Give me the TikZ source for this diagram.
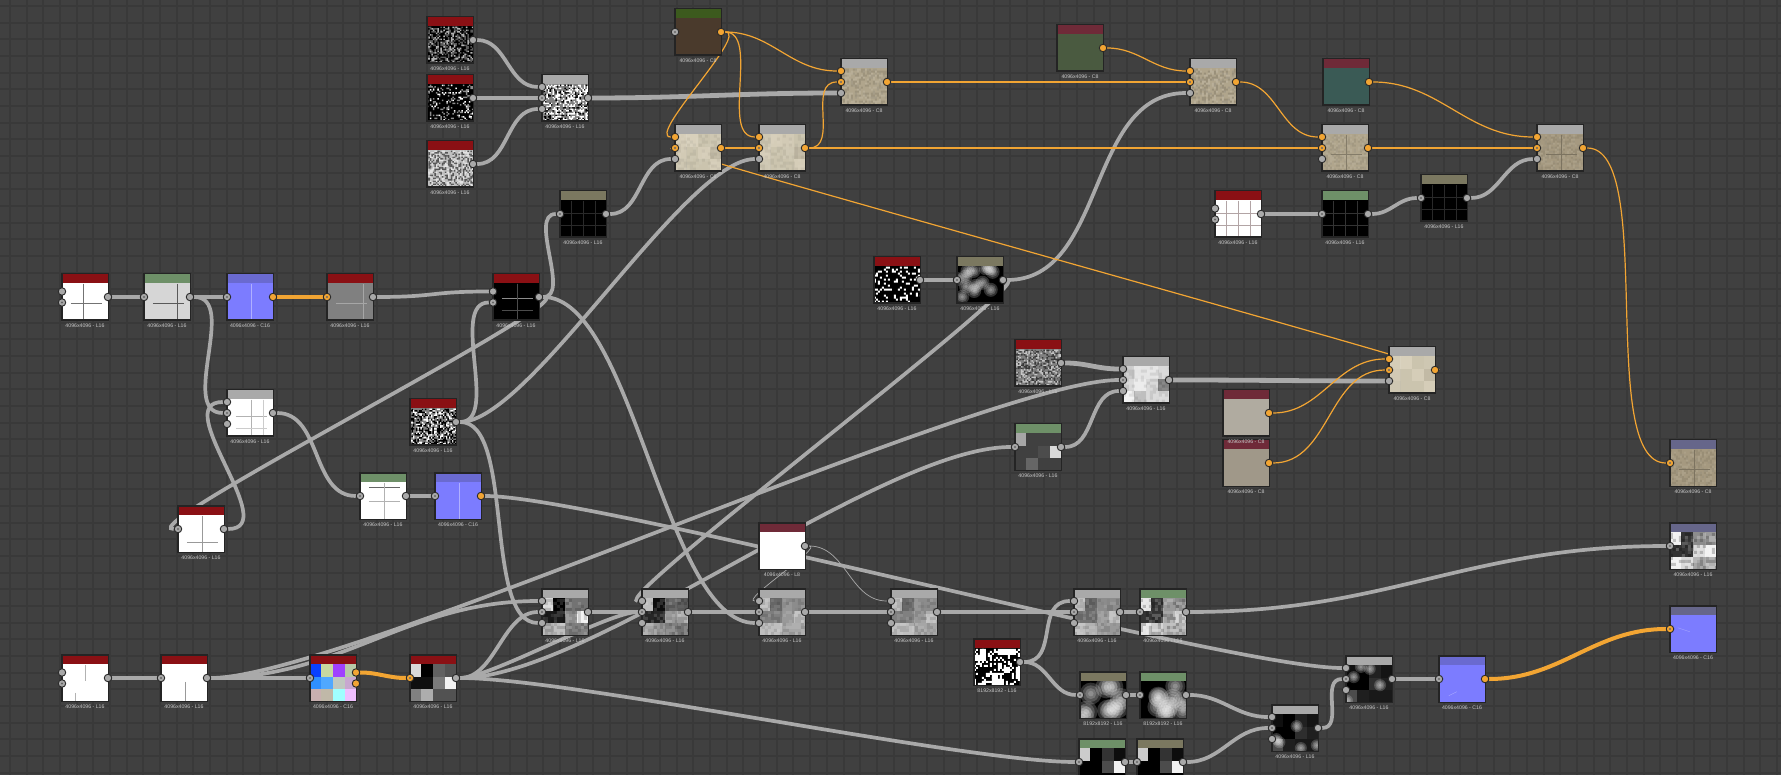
\documentclass[tikz,border=0pt]{standalone}
\usepackage{xcolor}
\usepackage{fontspec}
\setmainfont{Liberation Sans}
\usetikzlibrary{positioning,calc}

\definecolor{canvas}{HTML}{404040}
\definecolor{gridln}{HTML}{393939}
\definecolor{edgec}{HTML}{242424}
\definecolor{hred}{HTML}{8A1014}
\definecolor{hgray}{HTML}{A9A9A9}
\definecolor{hgreen}{HTML}{6E9068}
\definecolor{hkhaki}{HTML}{7B7860}
\definecolor{hwine}{HTML}{6F2A38}
\definecolor{hblue}{HTML}{6A6AD0}
\definecolor{hslate}{HTML}{66668A}
\definecolor{hgrass}{HTML}{3C5A1E}
\definecolor{wirec}{HTML}{A9A9A9}
\definecolor{orangec}{HTML}{F2A533}
\definecolor{normalc}{HTML}{7C7CFF}
\definecolor{cream}{HTML}{D3CAB2}
\definecolor{stone}{HTML}{B0A58C}
\definecolor{stonedk}{HTML}{A59980}
\definecolor{soilc}{HTML}{4A3A2C}
\definecolor{mossc}{HTML}{4A5A40}
\definecolor{algaec}{HTML}{3A5A55}
\definecolor{toneac}{HTML}{A09889}
\definecolor{tonebc}{HTML}{B0ABA0}

\pgfdeclarelayer{backdrop}
\pgfdeclarelayer{wires}
\pgfsetlayers{backdrop,wires,main}

\newcommand{\speckle}[5][1]{%
  \pgfmathsetseed{#2}%
  \pgfmathsetmacro\ynext{10+#3}%
  \begin{pgfscope}
  \pgfsetfillopacity{#1}\pgfsetfillcolor{#4}%
  \foreach \cx in {0,#3,...,47}{\foreach \cy in {10,\ynext,...,47}{%
    \pgfmathtruncatemacro\hit{rnd<#5}%
    \ifnum\hit=1 \pgfpathrectangle{\pgfqpoint{\cx pt}{-\cy pt}}{\pgfqpoint{#3pt}{-#3pt}}\fi}}%
  \pgfusepath{fill}
  \end{pgfscope}}
\newcommand{\grit}[3][1]{\speckle[#1]{#2}{#3}{white}{.35}\speckle[#1]{#21}{#3}{black}{.35}}
\newcommand{\blocks}[2][1]{%
  \foreach \v [count=\k from 0] in {#2}{%
    \pgfmathtruncatemacro\cc{mod(\k,4)}%
    \pgfmathtruncatemacro\rr{int(\k/4)}%
    \fill[white!\v!black,opacity=#1] ({\cc*11.7},{9.5+\rr*12.4}) rectangle ++(11.9,12.6);}}
\newcommand{\colblocks}[1]{%
  \foreach \v [count=\k from 0] in {#1}{%
    \pgfmathtruncatemacro\cc{mod(\k,4)}%
    \pgfmathtruncatemacro\rr{int(\k/4)}%
    \definecolor{blk}{HTML}{\v}%
    \fill[blk] ({\cc*11.7},{9.5+\rr*12.4}) rectangle ++(11.9,12.6);}}
\newcommand{\softblobs}[3]{%
  \pgfmathsetseed{#1}%
  \foreach \k in {1,...,#2}{%
    \pgfmathsetmacro\bx{rnd*46}%
    \pgfmathsetmacro\by{10+rnd*36}%
    \foreach \q in {1,.75,.5,.25}{\fill[white,opacity=.19] (\bx,\by) circle ({\q*#3 pt});}}}
\newcommand{\crossmark}[3]{\draw[#1,line width=.45pt] (#2,10)--(#2,47) (9,#3)--(40,#3);}
\newcommand{\gridmark}[1]{%
  \foreach \q in {11,23,35}{\draw[#1,line width=.4pt] (\q,10)--(\q,47);}
  \foreach \q in {22,34}{\draw[#1,line width=.4pt] (0,\q)--(47,\q);}}

\begin{document}
\begin{tikzpicture}[
    x=1pt, y=-1pt,
    thumb/.style 2 args={rectangle, draw=edgec, line width=1.5pt, minimum size=46.5pt, inner sep=0pt, path picture={
        \begin{pgfscope}
        \pgftransformshift{\pgfqpoint{-23.25pt}{23.25pt}}
        #2
        \fill[#1] (0,0) rectangle (47,9.5);
        \end{pgfscope}}},
    lbl/.style={font=\fontsize{5.2}{6}\selectfont, text=white!78!black, inner sep=0pt},
    ll/.style={label={[lbl,label distance=3pt]below:4096x4096 - L16}},
    lh/.style={label={[lbl,label distance=3pt]below:8192x8192 - L16}},
    le/.style={label={[lbl,label distance=3pt]below:4096x4096 - L8}},
    cc/.style={label={[lbl,label distance=3pt]below:4096x4096 - C8}},
    cs/.style={label={[lbl,label distance=3pt]below:4096x4096 - C16}},
    gsock/.style={circle, fill=wirec, draw=edgec!80!canvas, line width=.9pt, minimum size=7.5pt, inner sep=0pt},
    osock/.style={gsock, fill=orangec},
    gdot/.style={gsock, path picture={\fill[black!60] (path picture bounding box.center) circle (1.1pt);}},
    odot/.style={osock, path picture={\fill[black!60] (path picture bounding box.center) circle (1.1pt);}},
    wire/.style={draw=wirec, line width=3.7pt, every to/.style={out=0,in=180}},
    wirefat/.style={wire, line width=4.8pt},
    wirethin/.style={wire, line width=.7pt},
    owire/.style={wire, draw=orangec, line width=1.2pt},
    owirefat/.style={wire, draw=orangec, line width=4pt}
]
    \useasboundingbox (0,0) rectangle (1781,775);
    \begin{pgfonlayer}{backdrop}
    \fill[canvas] (0,0) rectangle (1781,775);
    \foreach \gx in {10,26.67,...,1781}{\draw[gridln, line width=2pt] (\gx,0)--(\gx,775);}
    \foreach \gy in {6,22.67,...,775}{\draw[gridln, line width=2pt] (0,\gy)--(1781,\gy);}
    \end{pgfonlayer}

    \node[thumb={hred}{\speckle{11}{1.5}{white!35!black}{.35}\speckle{110}{1.5}{white!70!black}{.18}}, ll, fill=black] (noisea) at (450,40) {};
    \node[thumb={hred}{\speckle{12}{1.5}{white!55!black}{.2}\speckle{120}{1.5}{white}{.07}}, ll, fill=black] (noiseb) at (450,98) {};
    \node[thumb={hred}{\grit[.55]{13}{1.5}}, ll, fill=white!75!black] (noisec) at (450,164) {};
    \node[thumb={hgray}{\speckle{14}{1.5}{black}{.3}\speckle{140}{1.5}{white}{.35}}, ll, fill=gray] (mixnoise) at (565,98) {};
    \node[thumb={hgrass}{}, cc, fill=soilc] (soil) at (698,32) {};
    \node[thumb={hgray}{\blocks[.12]{90,100,60,70,80,60,90,30,70,60,60,90}\grit[.05]{15}{3}}, cc, fill=cream] (sanda) at (698,148) {};
    \node[thumb={hgray}{\blocks[.12]{70,90,80,60,90,60,70,25,70,60,60,90}\grit[.05]{16}{3}}, cc, fill=cream] (sandb) at (782,148) {};
    \node[thumb={hgray}{\grit[.1]{17}{2}}, cc, fill=stone] (sandc) at (864,82) {};
    \node[thumb={hkhaki}{\gridmark{white!16!black}}, ll, fill=black] (seamdark) at (583,214) {};

    \node[thumb={hred}{\crossmark{black!55}{21}{29}}, ll, fill=white] (inputa) at (85,297) {};
    \node[thumb={hgreen}{\crossmark{black!65}{33}{29}}, ll, fill=white!84!black] (blura) at (167,297) {};
    \node[thumb={hblue}{\draw[white!40!normalc,line width=.3pt] (24,10)--(24,47);}, cs, fill=normalc] (norma) at (250,297) {};
    \node[thumb={hred}{\crossmark{black!35}{36}{29}}, ll, fill=white!50!black] (heighta) at (350,297) {};
    \node[thumb={hred}{\crossmark{white!55!black}{24}{24}\crossmark{white!30!black}{24}{36}}, ll, fill=black] (subtract) at (516,297) {};
    \node[thumb={hgray}{\crossmark{black!30}{24}{26}\crossmark{black!20}{36}{38}}, ll, fill=white] (maska) at (250,413) {};
    \node[thumb={hred}{\crossmark{black!40}{24}{36}}, ll, fill=white] (maskb) at (201,529) {};
    \node[thumb={hgreen}{\crossmark{black!60}{24}{14}\crossmark{black!30}{24}{28}}, ll, fill=white] (maskc) at (383,496) {};
    \node[thumb={hblue}{\draw[white!40!normalc,line width=.3pt] (24,10)--(24,47);}, cs, fill=normalc] (normb) at (458,496) {};
    \node[thumb={hred}{\grit{21}{1.5}}, ll, fill=gray] (noised) at (433,422) {};

    \node[thumb={hred}{\draw[black!30,line width=.5pt] (23,10)--(23,26) (13,38)--(13,47);}, ll, fill=white] (sourcea) at (85,678) {};
    \node[thumb={hred}{\draw[black!40,line width=.5pt] (24,27)--(24,47);}, ll, fill=white] (sourceb) at (184,678) {};
    \node[thumb={hred}{\colblocks{0A40FF,C8D8A0,A040FF,B8C8A8,3090FF,50A8FF,C0C8C0,C8A8D0,C8B0B0,C0B8A8,A0FFFF,F0C0FF}}, cs, fill=white] (uvmap) at (333,678) {};
    \node[thumb={hred}{\blocks{85,0,38,32,6,6,48,95,50,68,32,32}}, ll, fill=black] (cellmap) at (433,678) {};
    \node[thumb={hgray}{\blocks{85,0,45,45,10,10,55,95,70,75,50,50}\grit[.14]{31}{3}}, ll, fill=gray] (mixa) at (565,612) {};
    \node[thumb={hgray}{\blocks{75,5,40,35,15,15,60,70,65,60,50,45}\grit[.14]{32}{3}}, ll, fill=gray] (mixb) at (665,612) {};
    \node[thumb={hgray}{\blocks{75,40,55,55,50,50,60,75,75,75,65,65}\grit[.1]{33}{3}}, ll, fill=gray] (mixc) at (782,612) {};
    \node[thumb={hgray}{\blocks{75,40,55,55,50,50,60,75,75,75,65,65}\grit[.1]{34}{3}}, ll, fill=gray] (mixd) at (914,612) {};
    \node[thumb={hgray}{\blocks{75,40,55,55,45,45,60,75,75,70,60,60}\grit[.1]{35}{3}}, ll, fill=gray] (mixe) at (1097,612) {};
    \node[thumb={hgreen}{\blocks{90,20,60,55,20,20,65,80,90,80,70,70}\grit[.2]{36}{3}}, ll, fill=gray] (levela) at (1163,612) {};
    \node[thumb={hslate}{\blocks{95,20,55,60,20,20,85,95,95,85,65,70}\grit[.2]{37}{3}}, ll, fill=gray] (rough) at (1693,546) {};
    \node[thumb={hslate}{\draw[white!40!normalc,line width=.3pt] (8,22)--(20,26);}, cs, fill=normalc] (normout) at (1693,629) {};
    \node[thumb={hwine}{}, le, fill=white] (white) at (782,546) {};
    \node[thumb={hred}{\speckle{41}{2}{white}{.28}\speckle{410}{6}{white}{.15}}, lh, fill=black] (cloud) at (997,662) {};
    \node[thumb={hkhaki}{\softblobs{42}{9}{11}}, lh, fill=black] (cloudb) at (1103,695) {};
    \node[thumb={hgreen}{\softblobs{43}{10}{10}}, lh, fill=black] (cloudc) at (1163,695) {};
    \node[thumb={hgreen}{\blocks{80,0,20,5,0,0,30,95,0,0,0,0}}, fill=black] (cellb) at (1102,762) {};
    \node[thumb={hkhaki}{\blocks{80,0,20,5,0,0,30,95,0,0,0,0}}, fill=black] (cellc) at (1160,762) {};
    \node[thumb={hgray}{\blocks{6,0,13,8,0,0,18,12,30,12,10,10}\softblobs{44}{5}{6}}, ll, fill=black] (mixf) at (1295,728) {};
    \node[thumb={hgray}{\blocks{6,0,13,8,0,0,18,12,30,12,10,10}\softblobs{45}{5}{6}}, ll, fill=black] (mixg) at (1369,679) {};
    \node[thumb={hblue}{\draw[white!40!normalc,line width=.3pt] (10,40)--(18,36);}, cs, fill=normalc] (normc) at (1462,679) {};

    \node[thumb={hred}{\speckle{51}{2}{white}{.2}}, ll, fill=black] (splat) at (897,280) {};
    \node[thumb={hkhaki}{\softblobs{52}{13}{7}}, ll, fill=black] (splatblur) at (980,280) {};
    \node[thumb={hred}{\grit[.55]{53}{1.5}}, ll, fill=gray] (grain) at (1038,363) {};
    \node[thumb={hgray}{\blocks{80,90,90,85,85,92,85,50,95,75,85,85}\grit[.08]{54}{3}}, ll, fill=white] (mixh) at (1146,380) {};
    \node[thumb={hgreen}{\blocks{65,25,25,25,25,25,30,85,25,40,25,25}}, ll, fill=gray] (cellgray) at (1038,447) {};
    \node[thumb={hgray}{\blocks[.12]{90,100,60,70,80,60,90,30,70,60,60,90}}, cc, fill=cream] (sandmix) at (1412,370) {};
    \node[thumb={hwine}{}, cc, fill=toneac] (tonea) at (1246,463) {};
    \node[thumb={hwine}{}, cc, fill=tonebc] (toneb) at (1246,413) {};

    \node[thumb={hwine}{}, cc, fill=mossc] (moss) at (1080,48) {};
    \node[thumb={hwine}{}, cc, fill=algaec] (algae) at (1346,82) {};
    \node[thumb={hgray}{\grit[.12]{61}{2}}, cc, fill=stone] (sandd) at (1213,82) {};
    \node[thumb={hgray}{\grit[.07]{62}{2}\crossmark{stone!75!black}{24}{29}}, cc, fill=stone] (sande) at (1345,148) {};
    \node[thumb={hgray}{\grit[.07]{63}{2}\crossmark{stonedk!75!black}{24}{29}}, cc, fill=stonedk] (sandf) at (1560,148) {};
    \node[thumb={hred}{\gridmark{hred!15!white!75!black}}, ll, fill=white] (gridin) at (1238,214) {};
    \node[thumb={hgreen}{\gridmark{white!20!black}}, ll, fill=black] (gridlev) at (1345,214) {};
    \node[thumb={hkhaki}{\gridmark{white!16!black}}, ll, fill=black] (gridblur) at (1444,198) {};
    \node[thumb={hslate}{\grit[.07]{64}{2}\crossmark{stonedk!75!black}{24}{29}}, cc, fill=stonedk] (colorout) at (1693,463) {};

    % sockets on the left side
    \foreach \n in {mixnoise,maska,mixa,mixb,mixc,mixd,mixe,mixf,mixg,mixh}{
        \node[gsock] (\n-a) at ([xshift=1pt,yshift=11pt]\n.west) {};
        \node[gdot] (\n-b) at ([xshift=1pt]\n.west) {};
        \node[gsock] (\n-c) at ([xshift=1pt,yshift=-11pt]\n.west) {};
    }
    \foreach \n in {sanda,sandb,sandc,sandd,sande,sandf,sandmix}{
        \node[osock] (\n-a) at ([xshift=1pt,yshift=11pt]\n.west) {};
        \node[odot] (\n-b) at ([xshift=1pt]\n.west) {};
        \node[gsock] (\n-c) at ([xshift=1pt,yshift=-11pt]\n.west) {};
    }
    \foreach \n in {inputa,subtract,sourcea,gridin}{
        \node[gsock] (\n-a) at ([xshift=1pt,yshift=5.5pt]\n.west) {};
        \node[gdot] (\n-b) at ([xshift=1pt,yshift=-5.5pt]\n.west) {};
    }
    \foreach \n in {soil,blura,norma,maskb,maskc,normb,seamdark,sourceb,uvmap,levela,rough,cloudb,cloudc,cellb,cellc,normc,splatblur,cellgray,gridlev,gridblur}{
        \node[gdot] (\n-b) at ([xshift=1pt]\n.west) {};
    }
    \foreach \n in {heighta,cellmap,normout,colorout}{
        \node[odot] (\n-b) at ([xshift=1pt]\n.west) {};
    }

    % sockets on the right side
    \foreach \n in {noisea,noiseb,noisec,mixnoise,seamdark,inputa,blura,heighta,subtract,maska,maskb,maskc,noised,sourcea,sourceb,cellmap,mixa,mixb,mixc,mixd,mixe,mixf,mixg,mixh,levela,white,cloud,cloudb,cloudc,cellb,cellc,splat,splatblur,grain,cellgray,gridin,gridlev,gridblur}{
        \node[gsock] (\n-o) at ([xshift=-1pt]\n.east) {};
    }
    \foreach \n in {soil,sanda,sandb,sandc,sandd,sande,sandf,sandmix,moss,algae,tonea,toneb,norma,normb,normc}{
        \node[osock] (\n-o) at ([xshift=-1pt]\n.east) {};
    }
    \node[osock] (uvmap-o) at ([xshift=-1pt,yshift=5.5pt]uvmap.east) {};
    \node[osock] (uvmap-p) at ([xshift=-1pt,yshift=-5.5pt]uvmap.east) {};

    \begin{pgfonlayer}{wires}
    \draw[wire] (noisea-o) to (mixnoise-a);
    \draw[wire] (noiseb-o) to (mixnoise-b);
    \draw[wire] (noisec-o) to (mixnoise-c);
    \draw[wirefat] (mixnoise-o) to (sandc-c);
    \draw[wire] (seamdark-o) to (sanda-c);
    \draw[wire] (subtract-o) to[distance=28pt] (seamdark-b);
    \draw[wire] (noised-o) to[distance=40pt] (subtract-b);
    \draw[wire] (noised-o) to[distance=70pt] (sandb-c);
    \draw[wire] (noised-o) to[distance=55pt] (mixa-c);
    \draw[wire] (subtract-o) to[distance=90pt] (mixc-c);
    \draw[wire] (subtract-o) to[distance=45pt] (maskb-b);
    \draw[wirefat] (inputa-o) to (blura-b);
    \draw[wirefat] (blura-o) to (norma-b);
    \draw[owirefat] (norma-o) to (heighta-b);
    \draw[wire] (heighta-o) to[distance=60pt] (subtract-a);
    \draw[wire] (blura-o) to[distance=45pt] (maska-b);
    \draw[wire] (maskb-o) to[distance=55pt] (maska-a);
    \draw[wire] (maska-o) to (maskc-b);
    \draw[wirefat] (maskc-o) to (normb-b);
    \draw[wire] (normb-o) to[distance=110pt] (mixg-a);

    \draw[wirefat] (sourcea-o) to (sourceb-b);
    \draw[wire] (sourceb-o) to (uvmap-b);
    \draw[wire] (sourceb-o) to (mixa-a);
    \draw[wire] (sourceb-o) to[distance=130pt] (mixh-b);
    \draw[owirefat] (uvmap-o) to (cellmap-b);
    \draw[wire] (cellmap-o) to[distance=35pt] (mixa-b);
    \draw[wire] (cellmap-o) to[distance=30pt] (mixb-b);
    \draw[wire] (cellmap-o) to[distance=130pt] (cellgray-b);
    \draw[wire] (cellmap-o) to[distance=110pt] (cellb-b);
    \draw[wire] (mixa-o) to (mixb-b);
    \draw[wire] (mixb-o) to (mixc-b);
    \draw[wire] (mixc-o) to (mixd-b);
    \draw[wire] (mixd-o) to (mixe-b);
    \draw[wirefat] (mixe-o) to (levela-b);
    \draw[wire] (levela-o) to[distance=200pt] (rough-b);
    \draw[wirethin] (white-o) to (mixd-a);
    \draw[wirethin] (white-o) to[distance=15pt] (mixc-a);
    \draw[wire] (cloud-o) to[distance=35pt] (mixe-a);
    \draw[wire] (cloud-o) to (cloudb-b);
    \draw[wirefat] (cloudb-o) to (cloudc-b);
    \draw[wire] (cloudc-o) to (mixf-a);
    \draw[wirefat] (cellb-o) to (cellc-b);
    \draw[wire] (cellc-o) to (mixf-b);
    \draw[wire] (mixf-o) to[distance=22pt] (mixg-b);
    \draw[wirefat] (mixg-o) to (normc-b);
    \draw[owirefat] (normc-o) to (normout-b);

    \draw[wirefat] (splat-o) to (splatblur-b);
    \draw[wire] (splatblur-o) to[distance=30pt] (mixb-a);
    \draw[wire] (splatblur-o) to[distance=100pt] (sandd-c);
    \draw[wirefat] (grain-o) to (mixh-a);
    \draw[wire] (cellgray-o) to (mixh-c);
    \draw[wirefat] (mixh-o) to (sandmix-c);
    \draw[wirefat] (gridin-o) to (gridlev-b);
    \draw[wire] (gridlev-o) to (gridblur-b);
    \draw[wire] (gridblur-o) to (sandf-c);

    \draw[owire] (soil-o) to[distance=25pt] (sanda-a);
    \draw[owire] (soil-o) to[distance=35pt] (sandb-a);
    \draw[owire] (soil-o) to (sandc-a);
    \draw[owire] (sanda-o) to (sandb-b);
    \draw[owire] (sandb-o) to[distance=30pt] (sandc-b);
    \draw[owire] (sandb-o) to (sande-b);
    \draw[owire] (sandc-o) to (sandd-b);
    \draw[owire] (moss-o) to (sandd-a);
    \draw[owire] (sandd-o) to (sande-a);
    \draw[owire] (algae-o) to (sandf-a);
    \draw[owire] (sande-o) to (sandf-b);
    \draw[owire] (sandf-o) to[distance=70pt] (colorout-b);
    \draw[owire] (sandmix-o) to[distance=18pt] (sanda-b);
    \draw[owire] (toneb-o) to (sandmix-a);
    \draw[owire] (tonea-o) to (sandmix-b);
    \end{pgfonlayer}
\end{tikzpicture}
\end{document}
